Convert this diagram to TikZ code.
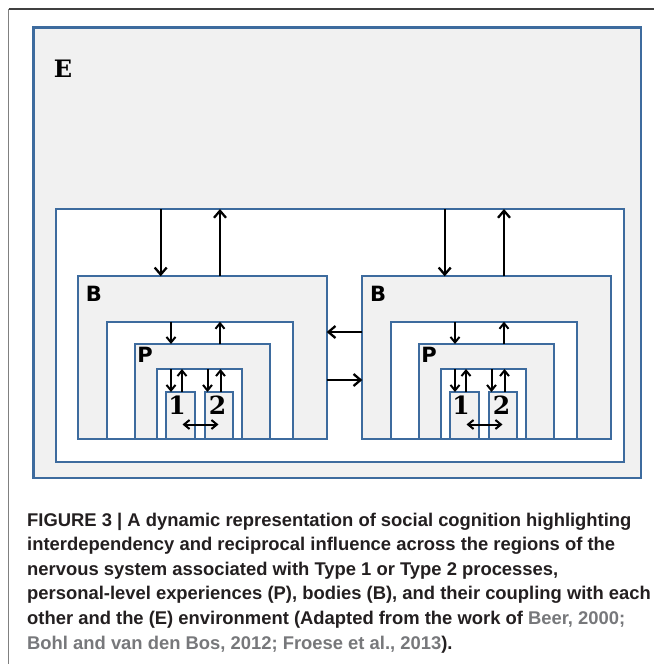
\documentclass[tikz,border=0pt]{standalone}
\usepackage{fontspec}
\setmainfont{Liberation Sans}
\newfontfamily\labfont{DejaVu Sans}
\newfontfamily\digfont{DejaVu Serif}
\usetikzlibrary{arrows.meta,calc}
\definecolor{bblue}{HTML}{3D6B9E}
\definecolor{lgray}{HTML}{F1F1F1}
\definecolor{captxt}{HTML}{231F20}
\definecolor{citgray}{HTML}{77787B}
\tikzset{
  box/.style={draw=bblue, line width=1.8pt, anchor=north west, inner sep=0pt, outer sep=0pt},
  gbox/.style={box, fill=lgray},
  wbox/.style={box, fill=white},
  arr/.style={draw=black, line width=2.3pt, -{Straight Barb[length=7pt,width=12pt,line width=2.3pt]}},
  sarr/.style={draw=black, line width=2pt, -{Straight Barb[length=5.5pt,width=9pt,line width=2pt]}},
  darr/.style={draw=black, line width=2pt, {Straight Barb[length=5.5pt,width=9pt,line width=2pt]}-{Straight Barb[length=5.5pt,width=9pt,line width=2pt]}},
  lab/.style={inner sep=0pt, font=\labfont\bfseries\fontsize{21}{21}\selectfont},
  dig/.style={inner sep=0pt, font=\digfont\bfseries\fontsize{25}{25}\selectfont},
  captext/.style={anchor=base west, inner sep=0pt, text=captxt, font=\bfseries\fontsize{18.4}{18.4}\selectfont}
}
\begin{document}
\begin{tikzpicture}[x=1pt,y=-1pt]
\useasboundingbox (0,0) rectangle (654,664);
\fill[white] (0,0) rectangle (654,664);
% page frame
\coordinate (f0) at (8.5,9);
\coordinate (f1) at (654,9);
\coordinate (f2) at (8.5,664);
\draw[line width=1.5pt, color=black!75] (f0) -- (f1);
\draw[line width=1.5pt, color=black!50] (f0) -- (f2);
% environment
\node[gbox, line width=2.2pt, minimum width=607.5pt, minimum height=450.5pt] (E) at (33.5,27.5) {};
\node[inner sep=0pt, font=\digfont\bfseries\fontsize{24}{24}\selectfont] (Elab) at (63,69) {E};
\node[wbox, minimum width=568.3pt, minimum height=253pt] (W) at (56,209) {};
\foreach \s/\n in {0/1,284/2}{
  \node[gbox, minimum width=248.4pt, minimum height=163pt] (B\n) at (78.3+\s,276.3) {};
  \node[wbox, minimum width=186pt, minimum height=117.6pt] (S\n) at (106.7+\s,321.7) {};
  \node[gbox, minimum width=135pt, minimum height=95.3pt] (P\n) at (135+\s,344) {};
  \node[wbox, minimum width=84.7pt, minimum height=70.3pt] (I\n) at (157.3+\s,369) {};
  \node[gbox, minimum width=28.7pt, minimum height=47.3pt] (one\n) at (166.3+\s,392) {};
  \node[gbox, minimum width=28pt, minimum height=47.3pt] (two\n) at (205+\s,392) {};
  \node[lab] (Blab\n) at (94+\s,294) {B};
  \node[lab] (Plab\n) at (145+\s,355) {P};
  \node[dig] (onelab\n) at (177+\s,405.5) {1};
  \node[dig] (twolab\n) at (217.5+\s,405.5) {2};
  % arrow x positions
  \coordinate (xa\n) at (160.7+\s,0);
  \coordinate (xb\n) at (220+\s,0);
  \coordinate (xc\n) at (171+\s,0);
  \coordinate (xd\n) at (220+\s,0);
  \coordinate (xe\n) at (171+\s,0);
  \coordinate (xf\n) at (182+\s,0);
  \coordinate (xg\n) at (207.5+\s,0);
  \coordinate (xh\n) at (220.5+\s,0);
  \draw[arr] (xa\n |- W.north) -- (xa\n |- B\n.north);
  \draw[arr] (xb\n |- B\n.north) -- (xb\n |- W.north);
  \draw[sarr] (xc\n |- S\n.north) -- (xc\n |- P\n.north);
  \draw[sarr] (xd\n |- P\n.north) -- (xd\n |- S\n.north);
  \draw[sarr] (xe\n |- I\n.north) -- (xe\n |- one\n.north);
  \draw[sarr] (xf\n |- one\n.north) -- (xf\n |- I\n.north);
  \draw[sarr] (xg\n |- I\n.north) -- (xg\n |- two\n.north);
  \draw[sarr] (xh\n |- two\n.north) -- (xh\n |- I\n.north);
  \coordinate (dl\n) at (182.5+\s,424.5);
  \coordinate (dr\n) at (218.5+\s,424.5);
  \draw[darr] (dl\n) -- (dr\n);
}
\coordinate (ya) at (0,332);
\coordinate (yb) at (0,380);
\draw[arr] (B2.west |- ya) -- (B1.east |- ya);
\draw[arr] (B1.east |- yb) -- (B2.west |- yb);
% caption
\node[captext] (c1) at (27,526) {FIGURE 3 | A dynamic representation of social cognition highlighting};
\node[captext] (c2) at (27,550.6) {interdependency and reciprocal influence across the regions of the};
\node[captext] (c3) at (27,575.2) {nervous system associated with Type 1 or Type 2 processes,};
\node[captext] (c4) at (27,599.8) {personal-level experiences (P), bodies (B), and their coupling with each};
\node[captext] (c5) at (27,624.4) {other and the (E) environment (Adapted from the work of \textcolor{citgray}{Beer, 2000;}};
\node[captext] (c6) at (27,649) {\textcolor{citgray}{Bohl and van den Bos, 2012; Froese et al., 2013}).};
\end{tikzpicture}
\end{document}
